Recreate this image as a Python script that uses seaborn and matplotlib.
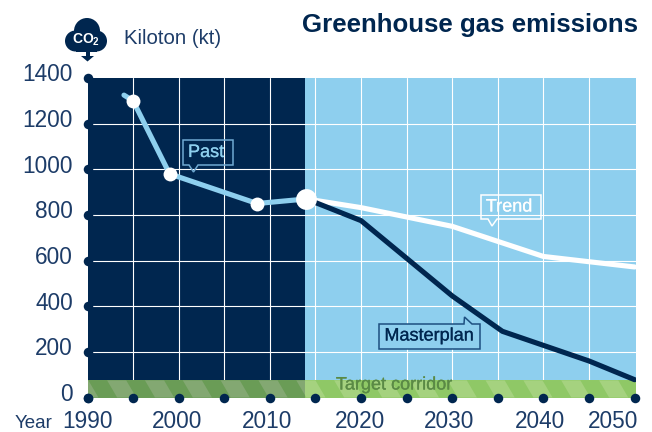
import numpy as np
import pandas as pd
import matplotlib
matplotlib.use('Agg')
import matplotlib.pyplot as plt
import matplotlib.patheffects as pe
from matplotlib.patches import Circle, Polygon, Rectangle
from matplotlib.transforms import ScaledTranslation
import seaborn as sns

# values
past_years = [1994, 1995, 1999, 2008.6, 2014]
past_kt = [1325, 1300, 980, 850, 870]
past_dot_years = [1995, 1999, 2008.6]
past_dot_kt = [1300, 980, 850]
now_year = [2014]
now_kt = [870]
trend_years = [2014, 2020, 2030, 2040, 2050]
trend_kt = [870, 832, 750, 618, 572]
plan_years = [2014, 2020, 2030, 2035.5, 2045, 2050]
plan_kt = [870, 775, 445, 290, 160, 78]
corridor_top = 75

x_ticks = list(range(1990, 2051, 5))
y_ticks = list(range(0, 1401, 200))
x_labels = ['1990', '2000', '2010', '2020', '2030', '2040', '2050']
x_label_pos = [1990, 1999.8, 2009.7, 2019.9, 2029.7, 2039.6, 2047.6]

NAVY = '#00264f'
TEXT = '#1d3c68'
SKY = '#8ecfee'

sns.set_theme(style='white')
plt.rcParams['font.family'] = ['Liberation Sans', 'DejaVu Sans']

fig = plt.figure(figsize=(6.52, 4.32), dpi=100)
W, H = 652, 432
ax = fig.add_axes([87.5 / W, 1 - 397.5 / H, (636 - 87.5) / W, (397.5 - 78) / H])
ax.set_xlim(1990, 2050.15)
ax.set_ylim(0, 1400)
ax.axvspan(1990, 2013.9, color=NAVY, lw=0, zorder=0)
ax.axvspan(2013.9, 2050.15, color=SKY, lw=0, zorder=0)

# grid, drawn over the background only
for yr in x_ticks[1:-1]:
    ax.axvline(yr, color='white', lw=0.8, zorder=1)
for v in y_ticks[1:-1]:
    ax.axhline(v, color='white', lw=0.8, zorder=1)

# striped target corridor
ax.axhspan(0, corridor_top, xmin=0, xmax=23.9 / 60.15, color='#6a9c56', lw=0, zorder=2)
ax.axhspan(0, corridor_top, xmin=23.9 / 60.15, xmax=1, color='#8fc866', lw=0, zorder=2)
for x0 in np.arange(1988, 2052, 4.15):
    for side, col, lo, hi in (('past', '#83a872', 1990, 2013.9), ('future', '#a5d27f', 2013.9, 2050.15)):
        top_l, top_r = x0, x0 + 2.1
        bot_l, bot_r = x0 + 1.1, x0 + 3.2
        p = Polygon([(top_l, corridor_top), (top_r, corridor_top), (bot_r, 0), (bot_l, 0)],
                    color=col, lw=0, zorder=2)
        ax.add_patch(p)
        p.set_clip_path(Rectangle((lo, 0), hi - lo, corridor_top, transform=ax.transData))

# lines
sns.lineplot(x=past_years, y=past_kt, sort=False, color=SKY, lw=3.7, ax=ax, zorder=3, estimator=None)
sns.lineplot(x=trend_years, y=trend_kt, sort=False, color='white', lw=3.7, ax=ax, zorder=3, estimator=None)
sns.lineplot(x=plan_years, y=plan_kt, sort=False, color=NAVY, lw=3.7, ax=ax, zorder=3, estimator=None)
sns.scatterplot(x=past_dot_years, y=past_dot_kt, color='white', s=100, linewidth=0, ax=ax, zorder=4)
sns.scatterplot(x=now_year, y=now_kt, color='white', s=225, linewidth=0, ax=ax, zorder=4)

# round tick dots on both axes
sns.scatterplot(x=x_ticks, y=[0] * len(x_ticks), color=NAVY, s=47, linewidth=0, ax=ax, zorder=5, clip_on=False)
sns.scatterplot(x=[1990] * len(y_ticks), y=y_ticks, color=NAVY, s=47, linewidth=0, ax=ax, zorder=5, clip_on=False)

ax.set_xlabel('')
ax.set_ylabel('')
sns.despine(ax=ax, left=True, bottom=True)

# year labels sit a bit off the dots, as in the original
ax.set_xticks(x_label_pos, x_labels)
ax.set_yticks(y_ticks, [str(v) for v in y_ticks])
ax.tick_params(axis='x', length=0, pad=9.2, labelsize=16.3, labelcolor=TEXT)
ax.tick_params(axis='y', length=0, pad=10.5, labelsize=16.3, labelcolor=TEXT)
for lbl in ax.get_yticklabels():
    lbl.set_transform(lbl.get_transform() + ScaledTranslation(0, 0.055, fig.dpi_scale_trans))

# overlay in pixel coordinates for title, icon and callouts
ov = fig.add_axes([0, 0, 1, 1], facecolor='none')
ov.set_xlim(0, W)
ov.set_ylim(H, 0)
ov.axis('off')

ov.text(638.5, 25, 'Greenhouse gas emissions', ha='right', va='center', fontsize=18.6, fontweight='bold', color=NAVY)
ov.text(124, 38, 'Kiloton (kt)', ha='left', va='center', fontsize=14.7, color=TEXT)
ov.text(15, 423, 'Year', ha='left', va='center', fontsize=13.5, color=TEXT)

# CO2 cloud
for cx, cy, r in ((75.5, 41, 10.5), (87, 31, 13), (96.5, 41, 10.5)):
    ov.add_patch(Circle((cx, cy), r, color=NAVY, lw=0))
ov.add_patch(Rectangle((76, 36), 21, 15.5, color=NAVY, lw=0))
ov.add_patch(Polygon([(81, 56), (94, 56), (87.5, 61.5)], color=NAVY, lw=0))
ov.add_patch(Rectangle((85.5, 52), 4, 5, color=NAVY, lw=0))
ov.text(86.5, 40, 'CO$\\mathregular{_2}$', ha='center', va='center', fontsize=10, fontweight='bold', color='white')


def callout(x0, y0, x1, y1, tail, text, edge, color):
    ov.add_patch(Polygon([(x0, y0), (x1, y0), (x1, y1)] + tail + [(x0, y1)], closed=True, fill=False,
                         edgecolor=edge, lw=1.1, zorder=6))
    t = ov.text((x0 + x1) / 2 - 2, (y0 + y1) / 2, text, ha='center', va='center', fontsize=13, color=color,
                zorder=6)
    t.set_path_effects([pe.withStroke(linewidth=0.15, foreground=color)])


callout(183, 140, 233, 165, [(198, 165), (193.5, 172), (189, 165)], 'Past', '#6fa9d2', SKY)
callout(481, 195, 541, 219, [(497, 219), (492, 226), (488, 219)], 'Trend', 'white', 'white')
ov.add_patch(Polygon([(379, 324), (464, 324), (464.5, 317), (472, 324), (480, 324), (480, 349), (379, 349)],
                     closed=True, facecolor=SKY, edgecolor='#1d4f80', lw=1.1, zorder=6))
t = ov.text(429, 336, 'Masterplan', ha='center', va='center', fontsize=13, color=NAVY, zorder=7)
t.set_path_effects([pe.withStroke(linewidth=0.15, foreground=NAVY)])
t = ov.text(394, 385, 'Target corridor', ha='center', va='center', fontsize=13, color='#5a8a45', zorder=7)
t.set_path_effects([pe.withStroke(linewidth=0.15, foreground='#5a8a45')])

fig.savefig('out.png', dpi=100)
